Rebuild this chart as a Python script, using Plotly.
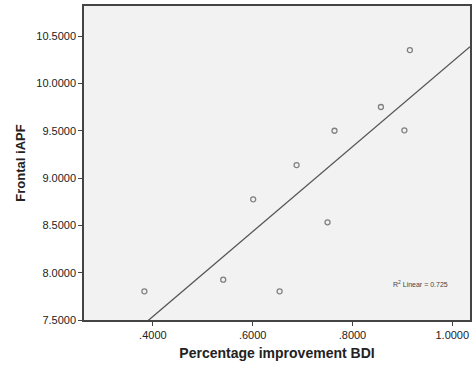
import numpy as np
import plotly.graph_objects as go

# Data
improvement_bdi = [0.915, 0.857, 0.904, 0.764, 0.688, 0.601, 0.750, 0.541, 0.383, 0.654]
frontal_iapf = [10.354, 9.752, 9.505, 9.501, 9.138, 8.776, 8.533, 7.926, 7.803, 7.803]

x_tick_vals = [0.4, 0.6, 0.8, 1.0]
x_tick_text = [".4000", ".6000", ".8000", "1.0000"]
y_tick_vals = [7.5, 8.0, 8.5, 9.0, 9.5, 10.0, 10.5]

x_range = [0.262, 1.0355]
y_range = [7.5, 10.82]

# Linear fit
xa = np.array(improvement_bdi)
ya = np.array(frontal_iapf)
slope, intercept = np.polyfit(xa, ya, 1)
fit_x = np.array(x_range)
fit_y = slope * fit_x + intercept

fig = go.Figure()
fig.add_trace(go.Scatter(
    x=fit_x, y=fit_y, mode="lines",
    line=dict(color="#555555", width=1.3),
    hoverinfo="skip", showlegend=False,
))
fig.add_trace(go.Scatter(
    x=improvement_bdi, y=frontal_iapf, mode="markers",
    marker=dict(symbol="circle-open", size=5, color="#808080", line=dict(width=1.3, color="#808080")),
    showlegend=False,
))

fig.add_annotation(
    x=0.995, y=7.88, xref="x", yref="y", xanchor="right", yanchor="middle",
    text="R<sup>2</sup> Linear = 0.725", showarrow=False,
    font=dict(family="Liberation Sans, Arial, sans-serif", size=7, color="#444444"),
)

axis_common = dict(
    showgrid=False, zeroline=False, showline=True, linecolor="#444444", linewidth=1.5,
    mirror=True, ticks="outside", ticklen=4, tickcolor="#444444", tickwidth=1,
    tickfont=dict(family="Liberation Sans, Arial, sans-serif", size=11, color="#222222"),
)

fig.update_layout(
    width=473, height=369,
    margin=dict(l=84, r=1, t=6, b=49),
    paper_bgcolor="white", plot_bgcolor="#f2f2f2",
    xaxis=dict(
        range=x_range, tickvals=x_tick_vals, ticktext=x_tick_text,
        title=dict(text="<b>Percentage improvement BDI</b>", standoff=8,
                   font=dict(family="Liberation Sans, Arial, sans-serif", size=14, color="#222222")),
        **axis_common,
    ),
    yaxis=dict(
        range=y_range, tickvals=y_tick_vals, tickformat=".4f",
        title=dict(text="<b>Frontal iAPF</b>", standoff=8,
                   font=dict(family="Liberation Sans, Arial, sans-serif", size=13, color="#222222")),
        **axis_common,
    ),
)

fig.write_html("out.html")
